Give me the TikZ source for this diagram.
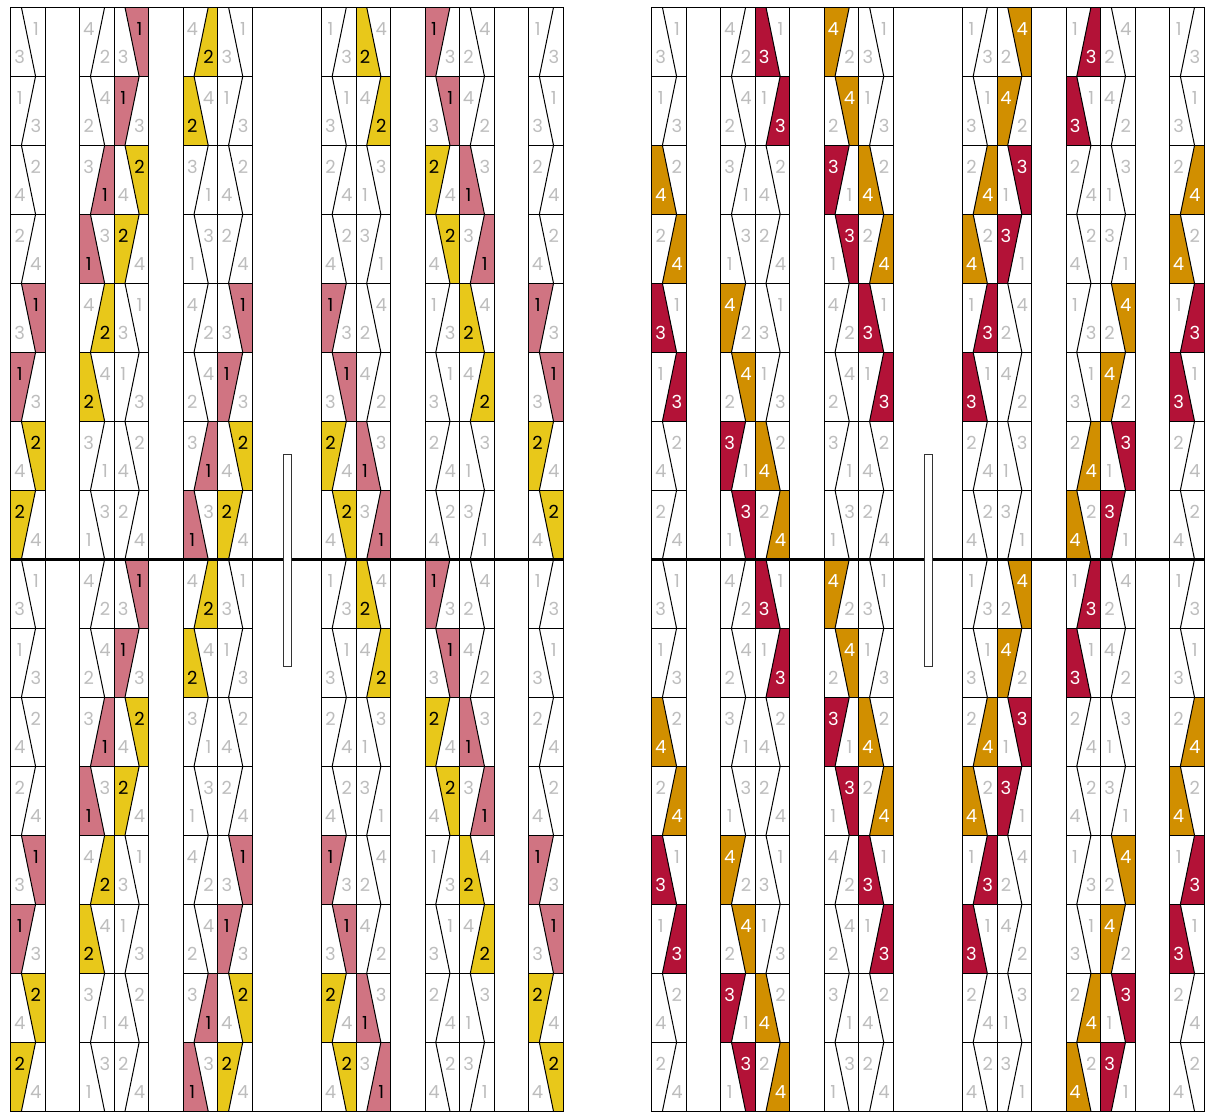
\documentclass[tikz,border=0pt]{standalone}
\usepackage{fontspec}
\setmainfont{Poppins}
\definecolor{num1}{HTML}{D07482}
\definecolor{num2}{HTML}{E8C81A}
\definecolor{num3}{HTML}{B31237}
\definecolor{num4}{HTML}{D18F00}
\definecolor{cgray}{HTML}{BDBDBD}
\begin{document}
\begin{tikzpicture}[x=1pt,y=-1pt,
  num/.style={font=\fontsize{18}{18}\selectfont, inner sep=0pt, anchor=center},
  cellline/.style={line width=1pt, black, line join=miter},
  midline/.style={line width=2.6pt, black},
  edgeline/.style={line width=1pt, black},
  barbox/.style={draw=black!80, line width=0.9pt, fill=white}]
\useasboundingbox (0,0) rectangle (1206,1113);
\def\W{34.53}\def\H{69}\def\Yo{7.3}
\foreach \pan/\Xo/\dark/\fillA in {0/10.7/black/1, 1/651.7/white/0}{
  \foreach \c/\typ/\ph/\sL/\sR in {0/1/0/4/2, 2/0/1/2/4, 3/1/0/0/6, 5/0/1/6/0, 6/1/0/4/2, 9/1/1/4/2, 10/0/0/6/0, 12/1/1/0/6, 13/0/0/2/4, 15/1/1/4/2}{
    \foreach \r in {0,...,15}{
      \pgfmathtruncatemacro\s{\pan==0 ? \sL : \sR}
      \pgfmathtruncatemacro\rr{mod(\r,8)}
      \pgfmathtruncatemacro\tsmall{mod(\r+\ph,2)==0}
      \pgfmathtruncatemacro\half{mod(\r,4)<2}
      \pgfmathtruncatemacro\tn{\typ==1 ? (\half==1 ? 1 : 2) : (\half==1 ? 4 : 3)}
      \pgfmathtruncatemacro\bn{\typ==1 ? \tn+2 : \tn-2}
      \pgfmathtruncatemacro\filled{mod(\rr-\s+8,8)<4}
      \pgfmathtruncatemacro\ftop{\typ==\fillA}
      \pgfmathtruncatemacro\fright{\ftop==\tsmall}
      \pgfmathtruncatemacro\fn{\ftop==1 ? \tn : \bn}
      \pgfmathsetmacro\xa{\Xo+\c*\W}
      \pgfmathsetmacro\xr{\xa+\W}
      \pgfmathsetmacro\ya{\Yo+\r*\H}
      \pgfmathsetmacro\yb{\ya+\H}
      \pgfmathsetmacro\xt{\xa+(\tsmall==1 ? 0.31 : 0.72)*\W}
      \pgfmathsetmacro\xb{\xa+(\tsmall==1 ? 0.72 : 0.31)*\W}
      \pgfmathsetmacro\xtn{\xa+(\tsmall==1 ? 0.73 : 0.26)*\W}
      \pgfmathsetmacro\xbn{\xa+(\tsmall==1 ? 0.26 : 0.73)*\W}
      \pgfmathsetmacro\ytn{\ya+0.31*\H}
      \pgfmathsetmacro\ybn{\ya+0.72*\H}
      \def\tcol{cgray}\def\bcol{cgray}
      \ifnum\filled=1
        \ifnum\fright=1
          \fill[num\fn] (\xt,\ya) -- (\xr,\ya) -- (\xr,\yb) -- (\xb,\yb) -- cycle;
        \else
          \fill[num\fn] (\xa,\ya) -- (\xt,\ya) -- (\xb,\yb) -- (\xa,\yb) -- cycle;
        \fi
        \ifnum\ftop=1 \def\tcol{\dark}\else\def\bcol{\dark}\fi
      \fi
      \draw[cellline] (\xa,\ya) rectangle (\xr,\yb);
      \draw[cellline] (\xt,\ya) -- (\xb,\yb);
      \node[num, text=\tcol] (n\pan-\c-\r-t) at (\xtn,\ytn) {\tn};
      \node[num, text=\bcol] (n\pan-\c-\r-b) at (\xbn,\ybn) {\bn};
    }
  }
  \pgfmathsetmacro\xe{\Xo+16*\W}
  \pgfmathsetmacro\ym{\Yo+8*\H}
  \pgfmathsetmacro\yz{\Yo+16*\H}
  \pgfmathsetmacro\bx{\Xo+272.6}
  \draw[edgeline] (\Xo,\Yo) -- (\xe,\Yo);
  \draw[edgeline] (\Xo,\yz) -- (\xe,\yz);
  \draw[midline] (\Xo,\ym) -- (\xe,\ym);
  \node[barbox, minimum width=7.7pt, minimum height=211.5pt, inner sep=0pt, anchor=north west] (bar\pan) at (\bx,454.2) {};
}
\end{tikzpicture}
\end{document}
